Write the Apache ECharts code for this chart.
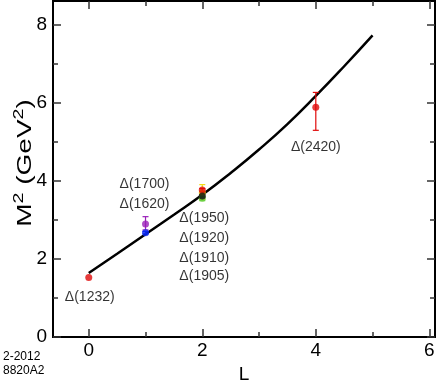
<!DOCTYPE html>
<html><head><meta charset="utf-8">
<script src="https://cdn.jsdelivr.net/npm/echarts@6/dist/echarts.min.js"></script>
<style>html,body{margin:0;padding:0;background:#fff}#c{width:437px;height:382px}</style>
</head><body><div id="c"></div>
<script>
// Data (draw order)
const names = ['Δ(1232)', 'Δ(1620)', 'Δ(1700)', 'Δ(1920)', 'Δ(1905)', 'Δ(1950)', 'Δ(1910)', 'Δ(2420)'];
const Lvals = [0, 1, 1, 2, 2, 2, 2, 4];
const M2 = [1.52, 2.67, 2.89, 3.69, 3.55, 3.76, 3.61, 5.88];
const errLow = [1.52, 2.64, 2.74, 3.52, 3.49, 3.72, 3.58, 5.29];
const errHigh = [1.52, 2.70, 3.08, 3.90, 3.60, 3.80, 3.64, 6.26];
const curveL = [0, 0.5, 1, 1.5, 2, 2.5, 3, 3.5, 4, 4.5, 5];
const curveM2 = [1.64, 2.13, 2.63, 3.13, 3.64, 4.20, 4.80, 5.45, 6.17, 6.93, 7.72];
const xMajor = [0, 2, 4, 6];
const xMinor = [1, 3, 5];
const yMajor = [0, 2, 4, 6, 8];
const yMinor = [1, 3, 5, 7];

// styles
const colors = ['#e00a0a', '#0a28f0', '#9a1fb8', '#f2dc10', '#6cd040', '#e00a0a', '#111111', '#e00a0a'];
const labelOffsets = [[1, 20], [-1, -29], [-1, -40], [2, 45], [2, 78], [2, 28], [2, 62], [0, 40]];

const chart = echarts.init(document.getElementById('c'));
const font = 'Liberation Sans, Arial, Helvetica, sans-serif';
const XMIN = -0.63, XMAX = 6.1, YMIN = 0, YMAX = 8.6;

function xAx(pos, ticks, len, labels, name) {
  return {
    type: 'value', min: XMIN, max: XMAX, position: pos,
    axisLine: { show: true, onZero: false, lineStyle: { color: '#000', width: 2 } },
    axisTick: { show: true, inside: true, length: len, customValues: ticks, lineStyle: { color: '#333', width: 1.5 } },
    axisLabel: labels ? { show: true, customValues: ticks, color: '#000', fontSize: 19, fontFamily: font, margin: 4 } : { show: false },
    splitLine: { show: false },
    name: name || '', nameLocation: 'middle', nameGap: 18,
    nameTextStyle: { color: '#000', fontSize: 19, fontFamily: font }
  };
}
function yAx(pos, ticks, len, labels) {
  return {
    type: 'value', min: YMIN, max: YMAX, position: pos,
    axisLine: { show: true, onZero: false, lineStyle: { color: '#000', width: 2 } },
    axisTick: { show: true, inside: true, length: len, customValues: ticks, lineStyle: { color: '#333', width: 1.5 } },
    axisLabel: labels ? { show: true, customValues: ticks, color: '#000', fontSize: 19, fontFamily: font, margin: 6 } : { show: false },
    splitLine: { show: false }
  };
}

const scatterData = names.map((n, i) => ({
  name: n,
  value: [Lvals[i], M2[i]],
  itemStyle: { color: colors[i] },
  label: { show: true, position: 'inside', offset: labelOffsets[i], formatter: n, color: '#000', fontSize: 14, fontFamily: font }
}));
const errData = names.map((n, i) => [Lvals[i], errLow[i], errHigh[i], i]);
const curveData = curveL.map((l, i) => [l, curveM2[i]]);

chart.setOption({
  animation: false,
  grid: { left: 53, right: 2, top: 1, bottom: 45, containLabel: false, outerBoundsMode: 'none' },
  xAxis: [xAx('bottom', xMajor, 8, true, 'L'), xAx('bottom', xMinor, 5, false), xAx('top', xMajor, 8, false), xAx('top', xMinor, 5, false)],
  yAxis: [yAx('left', yMajor, 8, true), yAx('left', yMinor, 5, false), yAx('right', yMajor, 8, false), yAx('right', yMinor, 5, false)],
  graphic: [
    { type: 'text', left: 3, top: 350, style: { text: '2-2012\n8820A2', fill: '#000', fontSize: 12, lineHeight: 14, fontFamily: font } },
    { type: 'text', x: 25, y: 163, rotation: Math.PI / 2, scaleX: 1.4, scaleY: 1, style: {
        text: '{n|M}{s|2}{n| (GeV}{s|2}{n|)}', align: 'center', verticalAlign: 'middle',
        rich: { n: { fontSize: 20, fontFamily: font, fill: '#000', lineHeight: 26 }, s: { fontSize: 14, fontFamily: font, fill: '#000', verticalAlign: 'top', lineHeight: 26, padding: [0, 0, 10, 0] } } } }
  ],
  series: [
    { type: 'line', xAxisIndex: 0, yAxisIndex: 0, data: curveData, smooth: true, showSymbol: false, symbol: 'none',
      lineStyle: { color: '#000', width: 2.5 }, z: 2, silent: true },
    { type: 'custom', xAxisIndex: 0, yAxisIndex: 0, data: errData, z: 3,
      renderItem: function (params, api) {
        const x = api.value(0), lo = api.value(1), hi = api.value(2), idx = api.value(3);
        if (hi - lo <= 0) return null;
        const p1 = api.coord([x, lo]), p2 = api.coord([x, hi]);
        const c = colors[idx], w = 3;
        const st = { stroke: c, lineWidth: 1.2 };
        return { type: 'group', children: [
          { type: 'line', shape: { x1: p1[0], y1: p1[1], x2: p2[0], y2: p2[1] }, style: st },
          { type: 'line', shape: { x1: p1[0] - w, y1: p1[1], x2: p1[0] + w, y2: p1[1] }, style: st },
          { type: 'line', shape: { x1: p2[0] - w, y1: p2[1], x2: p2[0] + w, y2: p2[1] }, style: st }
        ] };
      } },
    { type: 'scatter', xAxisIndex: 0, yAxisIndex: 0, data: scatterData, symbolSize: 7, z: 4 }
  ]
});
</script></body></html>
